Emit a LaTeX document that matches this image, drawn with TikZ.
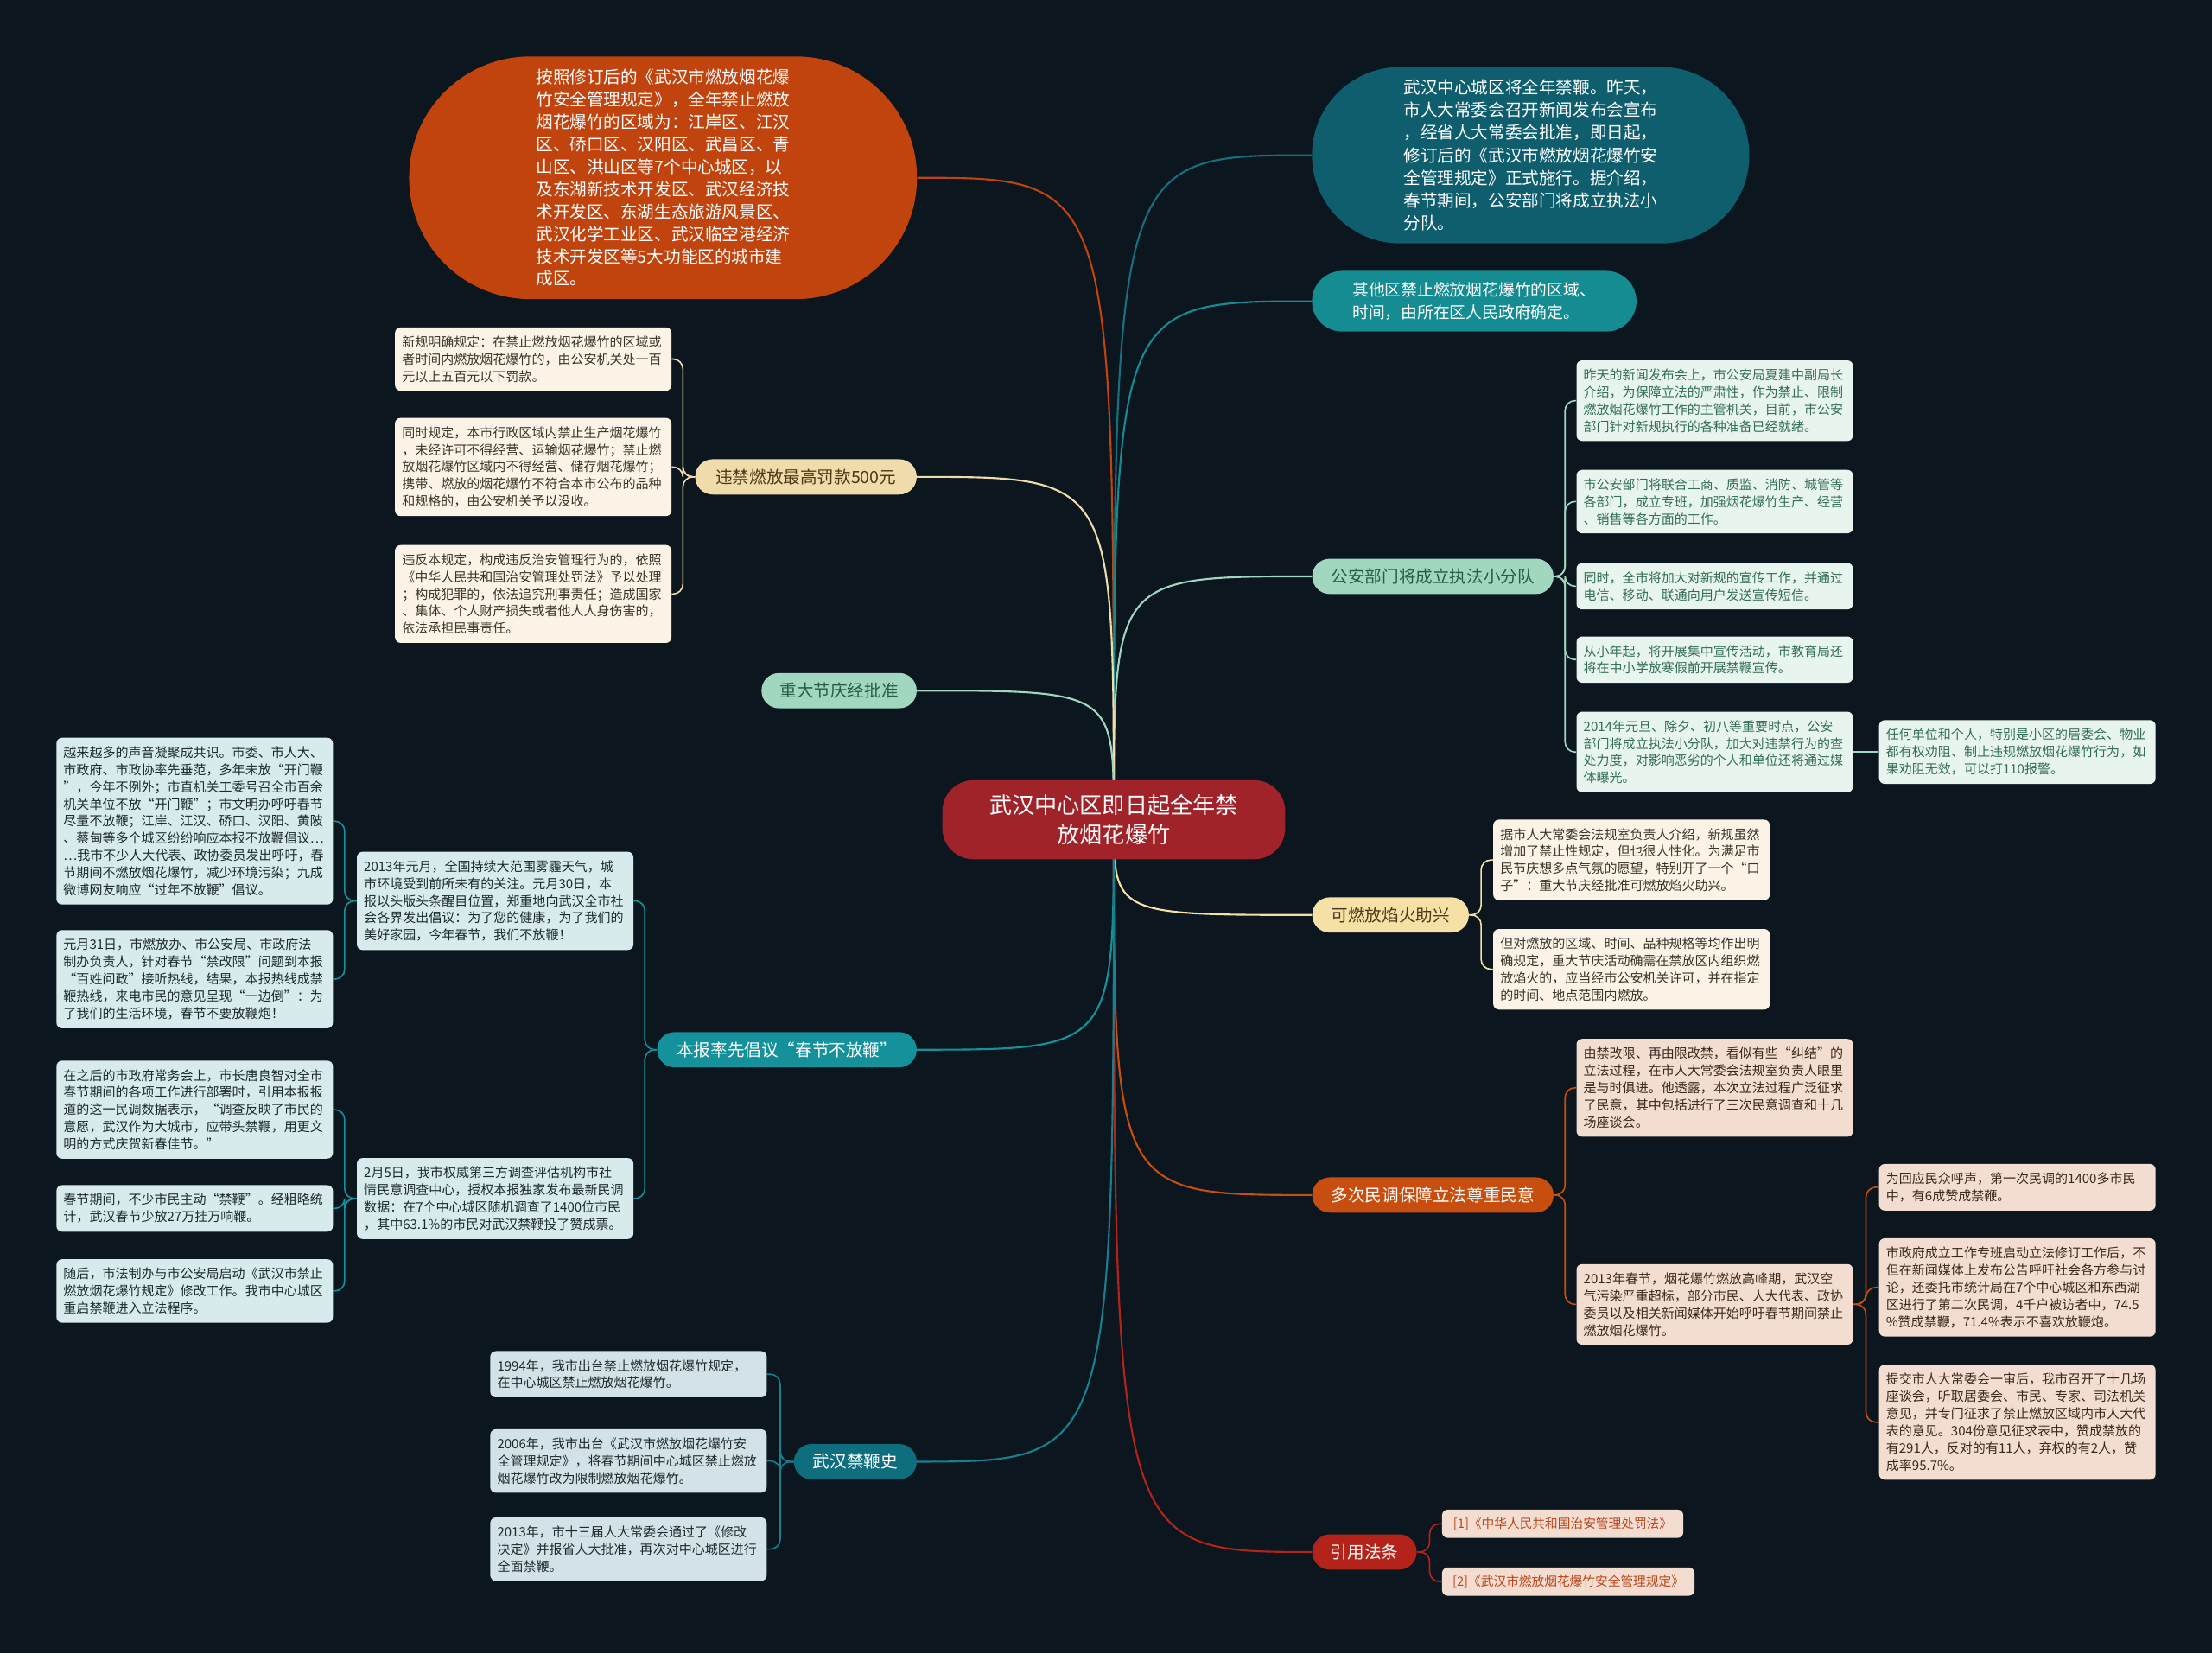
\documentclass[tikz,border=0pt]{standalone}
\usepackage{fontspec}
\setmainfont{Noto Sans CJK SC}
\pgfdeclarelayer{bglayer}
\pgfdeclarelayer{edgelayer}
\pgfsetlayers{bglayer,edgelayer,main}
\definecolor{bgc}{HTML}{0C161E}
\definecolor{cCenter}{HTML}{A0232A}
\definecolor{cLeft}{HTML}{C1440E}
\definecolor{cTR}{HTML}{0E5E6E}
\definecolor{cTRline}{HTML}{17707E}
\definecolor{cOther}{HTML}{148C91}
\definecolor{cMint}{HTML}{A0D7BE}
\definecolor{cMintText}{HTML}{2B5A47}
\definecolor{cYel}{HTML}{F5E1A5}
\definecolor{cYelText}{HTML}{4A3A1A}
\definecolor{cOrange}{HTML}{C84E10}
\definecolor{cRed}{HTML}{B42319}
\definecolor{cBeige}{HTML}{F0DCAA}
\definecolor{cTeal}{HTML}{14919A}
\definecolor{cDTeal}{HTML}{0E6E7D}
\definecolor{cDTealLine}{HTML}{17808E}
\definecolor{fCream}{HTML}{FAF3E6}
\definecolor{tCream}{HTML}{3A3328}
\definecolor{fMint}{HTML}{E8F5EE}
\definecolor{tMint}{HTML}{326E55}
\definecolor{fPeach}{HTML}{F3DDD1}
\definecolor{tPeach}{HTML}{3A2820}
\definecolor{tRef}{HTML}{B8461A}
\definecolor{fCyan}{HTML}{D7EBEC}
\definecolor{tCyan}{HTML}{1E2A2E}
\definecolor{fGray}{HTML}{D3E2E6}
\tikzset{
  sub/.style={rounded corners=4pt, text width=186pt, inner xsep=5pt, inner ysep=6pt, align=left,
    font=\fontsize{9.2pt}{12.2pt}\selectfont},
  pill/.style={rounded corners=12.4pt, minimum height=25pt, inner xsep=0pt, inner ysep=0pt,
    font=\fontsize{12pt}{14pt}\selectfont},
  refbox/.style={rounded corners=4pt, minimum height=20pt, inner xsep=4pt, inner ysep=0pt,
    font=\fontsize{9pt}{11pt}\selectfont, fill=fPeach, text=tRef, anchor=west},
  mainedge/.style={line width=1.3pt},
  subedge/.style={line width=1pt, rounded corners=7pt},
}
\begin{document}
\begin{tikzpicture}[x=1pt,y=-1pt]
\useasboundingbox (0,0) rectangle (1568,1172);
\begin{pgfonlayer}{bglayer}
\fill[bgc] (0,0) rectangle (1568,1172);
\end{pgfonlayer}

% center
\node[fill=cCenter, text=white, rounded corners=22pt, minimum width=243pt, minimum height=56pt,
  align=center, font=\fontsize{16pt}{21pt}\selectfont] (C) at (789.5,581)
  {武汉中心区即日起全年禁\\放烟花爆竹};

% big ellipses
\node[fill=cLeft, text=white, rounded corners=85.9pt, minimum width=360pt, minimum height=172pt,
  align=left, inner sep=0pt, font=\fontsize{12pt}{15.9pt}\selectfont] (L) at (470,126)
  {按照修订后的《武汉市燃放烟花爆\\竹安全管理规定》，全年禁止燃放\\烟花爆竹的区域为：江岸区、江汉\\区、硚口区、汉阳区、武昌区、青\\山区、洪山区等7个中心城区，以\\及东湖新技术开发区、武汉经济技\\术开发区、东湖生态旅游风景区、\\武汉化学工业区、武汉临空港经济\\技术开发区等5大功能区的城市建\\成区。};
\node[fill=cTR, text=white, rounded corners=62.4pt, minimum width=310pt, minimum height=125pt,
  align=left, inner sep=0pt, font=\fontsize{12pt}{16pt}\selectfont] (TR) at (1085,110)
  {武汉中心城区将全年禁鞭。昨天，\\市人大常委会召开新闻发布会宣布\\，经省人大常委会批准，即日起，\\修订后的《武汉市燃放烟花爆竹安\\全管理规定》正式施行。据介绍，\\春节期间，公安部门将成立执法小\\分队。};
\node[fill=cOther, text=white, rounded corners=21.4pt, minimum width=230pt, minimum height=43pt,
  align=left, inner sep=0pt, font=\fontsize{11.5pt}{16pt}\selectfont] (OT) at (1045,213.5)
  {其他区禁止燃放烟花爆竹的区域、\\时间，由所在区人民政府确定。};

% right pills
\node[pill, fill=cMint, text=cMintText, minimum width=171pt, anchor=west] (GA) at (930,408.5) {公安部门将成立执法小分队};
\node[pill, fill=cYel, text=cYelText, minimum width=111pt, anchor=west] (KR) at (930,648.5) {可燃放焰火助兴};
\node[pill, fill=cOrange, text=white, minimum width=171pt, anchor=west] (DC) at (930,847) {多次民调保障立法尊重民意};
\node[pill, fill=cRed, text=white, minimum width=74pt, anchor=west] (YY) at (930,1100) {引用法条};
% left pills
\node[pill, fill=cBeige, text=cYelText, minimum width=157pt, anchor=east] (WJ) at (650,338) {违禁燃放最高罚款500元};
\node[pill, fill=cMint, text=cMintText, minimum width=110pt, anchor=east] (ZD) at (650,489.5) {重大节庆经批准};
\node[pill, fill=cTeal, text=white, minimum width=184pt, anchor=east] (BB) at (650,744) {本报率先倡议“春节不放鞭”};
\node[pill, fill=cDTeal, text=white, minimum width=87pt, anchor=east] (JB) at (650,1036) {武汉禁鞭史};

% penalty children
\node[sub, fill=fCream, text=tCream] (W1) at (378,254.5)
  {新规明确规定：在禁止燃放烟花爆竹的区域或\\者时间内燃放烟花爆竹的，由公安机关处一百\\元以上五百元以下罚款。};
\node[sub, fill=fCream, text=tCream] (W2) at (378,331)
  {同时规定，本市行政区域内禁止生产烟花爆竹\\，未经许可不得经营、运输烟花爆竹；禁止燃\\放烟花爆竹区域内不得经营、储存烟花爆竹；\\携带、燃放的烟花爆竹不符合本市公布的品种\\和规格的，由公安机关予以没收。};
\node[sub, fill=fCream, text=tCream] (W3) at (378,421)
  {违反本规定，构成违反治安管理行为的，依照\\《中华人民共和国治安管理处罚法》予以处理\\；构成犯罪的，依法追究刑事责任；造成国家\\、集体、个人财产损失或者他人人身伤害的，\\依法承担民事责任。};

% police children
\node[sub, fill=fMint, text=tMint] (G1) at (1215.5,284)
  {昨天的新闻发布会上，市公安局夏建中副局长\\介绍，为保障立法的严肃性，作为禁止、限制\\燃放烟花爆竹工作的主管机关，目前，市公安\\部门针对新规执行的各种准备已经就绪。};
\node[sub, fill=fMint, text=tMint] (G2) at (1215.5,355.5)
  {市公安部门将联合工商、质监、消防、城管等\\各部门，成立专班，加强烟花爆竹生产、经营\\、销售等各方面的工作。};
\node[sub, fill=fMint, text=tMint] (G3) at (1215.5,415.5)
  {同时，全市将加大对新规的宣传工作，并通过\\电信、移动、联通向用户发送宣传短信。};
\node[sub, fill=fMint, text=tMint] (G4) at (1215.5,467.5)
  {从小年起，将开展集中宣传活动，市教育局还\\将在中小学放寒假前开展禁鞭宣传。};
\node[sub, fill=fMint, text=tMint] (G5) at (1215.5,533)
  {2014年元旦、除夕、初八等重要时点，公安\\部门将成立执法小分队，加大对违禁行为的查\\处力度，对影响恶劣的个人和单位还将通过媒\\体曝光。};
\node[sub, fill=fMint, text=tMint] (G6) at (1430,533)
  {任何单位和个人，特别是小区的居委会、物业\\都有权劝阻、制止违规燃放烟花爆竹行为，如\\果劝阻无效，可以打110报警。};

% fireworks children
\node[sub, fill=fCream, text=tCream] (K1) at (1156.5,609.5)
  {据市人大常委会法规室负责人介绍，新规虽然\\增加了禁止性规定，但也很人性化。为满足市\\民节庆想多点气氛的愿望，特别开了一个“口\\子”：重大节庆经批准可燃放焰火助兴。};
\node[sub, fill=fCream, text=tCream] (K2) at (1156.5,687)
  {但对燃放的区域、时间、品种规格等均作出明\\确规定，重大节庆活动确需在禁放区内组织燃\\放焰火的，应当经市公安机关许可，并在指定\\的时间、地点范围内燃放。};

% survey children
\node[sub, fill=fPeach, text=tPeach] (D1) at (1215.5,771)
  {由禁改限、再由限改禁，看似有些“纠结”的\\立法过程，在市人大常委会法规室负责人眼里\\是与时俱进。他透露，本次立法过程广泛征求\\了民意，其中包括进行了三次民意调查和十几\\场座谈会。};
\node[sub, fill=fPeach, text=tPeach] (D2) at (1215.5,924.5)
  {2013年春节，烟花爆竹燃放高峰期，武汉空\\气污染严重超标，部分市民、人大代表、政协\\委员以及相关新闻媒体开始呼吁春节期间禁止\\燃放烟花爆竹。};
\node[sub, fill=fPeach, text=tPeach] (D3) at (1430,841.5)
  {为回应民众呼声，第一次民调的1400多市民\\中，有6成赞成禁鞭。};
\node[sub, fill=fPeach, text=tPeach] (D4) at (1430,912.5)
  {市政府成立工作专班启动立法修订工作后，不\\但在新闻媒体上发布公告呼吁社会各方参与讨\\论，还委托市统计局在7个中心城区和东西湖\\区进行了第二次民调，4千户被访者中，74.5\\\%赞成禁鞭，71.4\%表示不喜欢放鞭炮。};
\node[sub, fill=fPeach, text=tPeach] (D5) at (1430,1008)
  {提交市人大常委会一审后，我市召开了十几场\\座谈会，听取居委会、市民、专家、司法机关\\意见，并专门征求了禁止燃放区域内市人大代\\表的意见。304份意见征求表中，赞成禁放的\\有291人，反对的有11人，弃权的有2人，赞\\成率95.7\%。};

% references
\node[refbox, minimum width=171pt] (R1) at (1022,1080) {[1]《中华人民共和国治安管理处罚法》};
\node[refbox, minimum width=179pt] (R2) at (1022,1121) {[2]《武汉市燃放烟花爆竹安全管理规定》};

% newspaper children
\node[sub, fill=fCyan, text=tCyan] (B1) at (351,638.5)
  {2013年元月，全国持续大范围雾霾天气，城\\市环境受到前所未有的关注。元月30日，本\\报以头版头条醒目位置，郑重地向武汉全市社\\会各界发出倡议：为了您的健康，为了我们的\\美好家园，今年春节，我们不放鞭！};
\node[sub, fill=fCyan, text=tCyan] (B2) at (351,849.5)
  {2月5日，我市权威第三方调查评估机构市社\\情民意调查中心，授权本报独家发布最新民调\\数据：在7个中心城区随机调查了1400位市民\\，其中63.1\%的市民对武汉禁鞭投了赞成票。};
\node[sub, fill=fCyan, text=tCyan] (B3) at (138,582)
  {越来越多的声音凝聚成共识。市委、市人大、\\市政府、市政协率先垂范，多年未放“开门鞭\\”，今年不例外；市直机关工委号召全市百余\\机关单位不放“开门鞭”；市文明办呼吁春节\\尽量不放鞭；江岸、江汉、硚口、汉阳、黄陂\\、蔡甸等多个城区纷纷响应本报不放鞭倡议…\\…我市不少人大代表、政协委员发出呼吁，春\\节期间不燃放烟花爆竹，减少环境污染；九成\\微博网友响应“过年不放鞭”倡议。};
\node[sub, fill=fCyan, text=tCyan] (B4) at (138,694)
  {元月31日，市燃放办、市公安局、市政府法\\制办负责人，针对春节“禁改限”问题到本报\\“百姓问政”接听热线，结果，本报热线成禁\\鞭热线，来电市民的意见呈现“一边倒”：为\\了我们的生活环境，春节不要放鞭炮！};
\node[sub, fill=fCyan, text=tCyan] (B5) at (138,786.5)
  {在之后的市政府常务会上，市长唐良智对全市\\春节期间的各项工作进行部署时，引用本报报\\道的这一民调数据表示，“调查反映了市民的\\意愿，武汉作为大城市，应带头禁鞭，用更文\\明的方式庆贺新春佳节。”};
\node[sub, fill=fCyan, text=tCyan] (B6) at (138,856.5)
  {春节期间，不少市民主动“禁鞭”。经粗略统\\计，武汉春节少放27万挂万响鞭。};
\node[sub, fill=fCyan, text=tCyan] (B7) at (138,915)
  {随后，市法制办与市公安局启动《武汉市禁止\\燃放烟花爆竹规定》修改工作。我市中心城区\\重启禁鞭进入立法程序。};

% history children
\node[sub, fill=fGray, text=tCyan] (H1) at (445.5,974)
  {1994年，我市出台禁止燃放烟花爆竹规定，\\在中心城区禁止燃放烟花爆竹。};
\node[sub, fill=fGray, text=tCyan] (H2) at (445.5,1035.5)
  {2006年，我市出台《武汉市燃放烟花爆竹安\\全管理规定》，将春节期间中心城区禁止燃放\\烟花爆竹改为限制燃放烟花爆竹。};
\node[sub, fill=fGray, text=tCyan] (H3) at (445.5,1098)
  {2013年，市十三届人大常委会通过了《修改\\决定》并报省人大批准，再次对中心城区进行\\全面禁鞭。};

\begin{pgfonlayer}{edgelayer}
% main edges
\draw[mainedge, cLeft] (C.center) .. controls (C.center |- L.east) .. (L.east);
\draw[mainedge, cTRline] (C.center) .. controls (C.center |- TR.west) .. (TR.west);
\draw[mainedge, cOther] (C.center) .. controls (C.center |- OT.west) .. (OT.west);
\draw[mainedge, cMint] (C.center) .. controls (C.center |- GA.west) .. (GA.west);
\draw[mainedge, cYel] (C.center) .. controls (C.center |- KR.west) .. (KR.west);
\draw[mainedge, cOrange] (C.center) .. controls (C.center |- DC.west) .. (DC.west);
\draw[mainedge, cRed] (C.center) .. controls (C.center |- YY.west) .. (YY.west);
\draw[mainedge, cBeige] (C.center) .. controls (C.center |- WJ.east) .. (WJ.east);
\draw[mainedge, cMint] (C.center) .. controls (C.center |- ZD.east) .. (ZD.east);
\draw[mainedge, cTeal] (C.center) .. controls (C.center |- BB.east) .. (BB.east);
\draw[mainedge, cDTealLine] (C.center) .. controls (C.center |- JB.east) .. (JB.east);
% sub edges right side
\foreach \c in {G1,G2,G3,G4,G5}
  \draw[subedge, cMint] (GA.east) -- ++(8,0) |- (\c.west);
\draw[subedge, cMint] (G5.east) -- (G6.west);
\foreach \c in {K1,K2}
  \draw[subedge, cYel] (KR.east) -- ++(8.5,0) |- (\c.west);
\foreach \c in {D1,D2}
  \draw[subedge, cOrange] (DC.east) -- ++(8,0) |- (\c.west);
\foreach \c in {D3,D4,D5}
  \draw[subedge, cOrange] (D2.east) -- ++(9,0) |- (\c.west);
\foreach \c in {R1,R2}
  \draw[subedge, cRed] (YY.east) -- ++(9,0) |- (\c.west);
% sub edges left side
\foreach \c in {W1,W2,W3}
  \draw[subedge, cBeige] (WJ.west) -- ++(-8.5,0) |- (\c.east);
\foreach \c in {B1,B2}
  \draw[subedge, cTeal] (BB.west) -- ++(-8.5,0) |- (\c.east);
\foreach \c in {B3,B4}
  \draw[subedge, cTeal] (B1.west) -- ++(-8.5,0) |- (\c.east);
\foreach \c in {B5,B6,B7}
  \draw[subedge, cTeal] (B2.west) -- ++(-8.5,0) |- (\c.east);
\foreach \c in {H1,H2,H3}
  \draw[subedge, cDTealLine] (JB.west) -- ++(-9.5,0) |- (\c.east);
\end{pgfonlayer}
\end{tikzpicture}
\end{document}
